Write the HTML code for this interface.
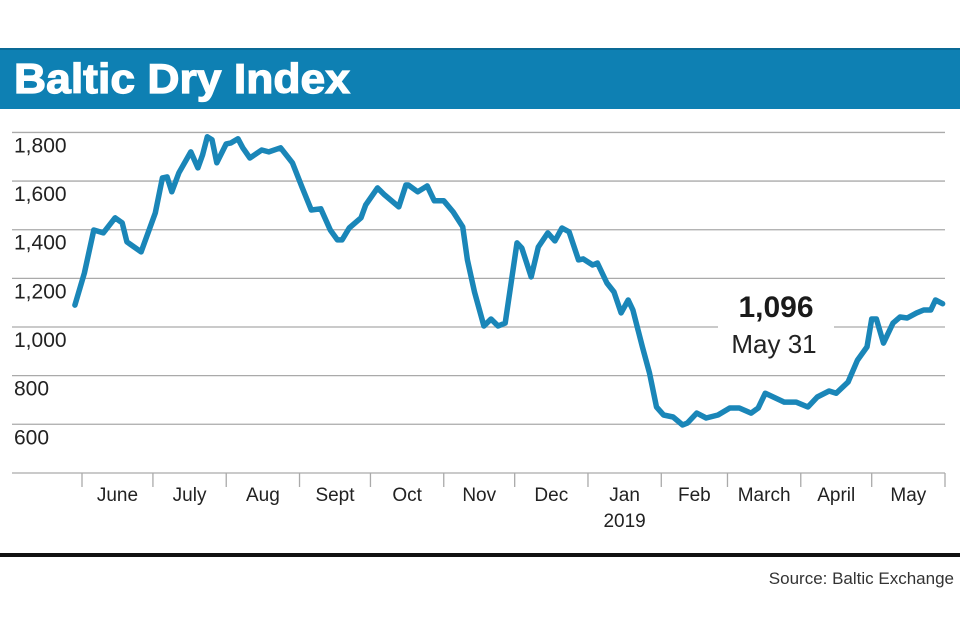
<!DOCTYPE html>
<html><head><meta charset="utf-8"><style>
body{margin:0;background:#fff;font-family:"Liberation Sans",sans-serif}
svg{display:block}
</style></head><body>
<svg width="960" height="640">
<rect x="0" y="48" width="960" height="2" fill="#0a6a96"/>
<rect x="0" y="50" width="960" height="59" fill="#0e80b3"/>
<text x="14" y="93" fill="#fff" font-size="42" font-weight="bold" textLength="336" lengthAdjust="spacingAndGlyphs" stroke="#fff" stroke-width="1.2">Baltic Dry Index</text>
<g id="grid"></g><g id="xaxis"></g>
<rect x="718" y="318" width="116" height="18" fill="#fff"/>
<g id="plot"></g>
<text x="776" y="317" text-anchor="middle" font-size="30" font-weight="bold" fill="#1a1a1a">1,096</text>
<text x="774" y="353" text-anchor="middle" font-size="26" fill="#222">May 31</text>
<rect x="0" y="553" width="960" height="4" fill="#111"/>
<text x="954" y="584" text-anchor="end" font-size="17" fill="#333">Source: Baltic Exchange</text>
</svg>
<script>
const yTicks=[600,800,1000,1200,1400,1600,1800];
const yTickLabels=["600","800","1,000","1,200","1,400","1,600","1,800"];
const monthStarts=[0,30,61,92,122,153,183,214,245,273,304,334,365];
const monthLabels=["June","July","Aug","Sept","Oct","Nov","Dec","Jan","Feb","March","April","May"];
const days=[-3,1,5,9,14,17,19,25,31,34,36,38,41,46,49,51,53,55,57,61,63,66,68,71,76,79,84,87,89,93,97,101,105,108,110,113,118,120,125,128,134,137,138,142,146,149,153,157,161,163,166,170,173,176,179,184,186,190,193,197,200,203,206,210,212,216,218,222,225,228,231,233,237,240,243,246,250,254,256,260,264,269,274,278,283,286,289,297,302,307,311,316,319,324,328,332,334,336,339,343,346,349,353,356,359,361,364];
const values=[1090,1222,1399,1387,1449,1428,1350,1309,1469,1613,1617,1556,1634,1720,1654,1708,1782,1770,1675,1753,1757,1774,1737,1695,1728,1720,1737,1700,1675,1576,1481,1486,1399,1358,1358,1407,1449,1502,1572,1543,1494,1584,1584,1556,1580,1519,1519,1473,1412,1276,1144,1004,1033,1004,1016,1346,1325,1206,1329,1387,1354,1407,1391,1276,1280,1255,1263,1181,1144,1058,1111,1070,918,811,671,638,630,597,605,646,626,638,667,667,646,667,728,691,691,671,712,737,728,774,864,918,1033,1033,934,1016,1041,1037,1058,1070,1070,1111,1096];
const NS="http://www.w3.org/2000/svg";
const X=d=>82+d*(863/365);
const Y=v=>327-(v-1000)*0.2432;
const grid=document.getElementById('grid'),xa=document.getElementById('xaxis'),plot=document.getElementById('plot');
function mk(t,a,p){const e=document.createElementNS(NS,t);for(const k in a)e.setAttribute(k,a[k]);p.appendChild(e);return e;}
yTicks.forEach((v,i)=>{
 const l=mk('line',{x1:12,x2:945,y1:Y(v),y2:Y(v),stroke:'#aaa','stroke-width':1.3},grid);
 
 
 const t=mk('text',{x:14,y:Y(v)+20,'font-size':21,fill:'#222'},grid);t.textContent=yTickLabels[i];
 
 
});
const ax=mk('line',{x1:12,x2:945,y1:473,y2:473,stroke:'#aaa','stroke-width':1.3},xa);


monthStarts.forEach((d,i)=>{
 const tk=mk('line',{x1:X(d),x2:X(d),y1:473,y2:487,stroke:'#aaa','stroke-width':1.3},xa);
 
 
 if(i<monthLabels.length){
  const t=mk('text',{x:(X(d)+X(monthStarts[i+1]))/2,y:501,'font-size':19,fill:'#222','text-anchor':'middle'},xa);
  t.textContent=monthLabels[i];
  
  
 }
});
const yr=mk('text',{x:(X(214)+X(245))/2,y:527,'font-size':19,fill:'#222','text-anchor':'middle'},xa);
yr.textContent='2019';


const p=mk('path',{d:days.map((d,i)=>(i?'L':'M')+X(d).toFixed(1)+','+Y(values[i]).toFixed(1)).join(''),fill:'none',stroke:'#1a86b8','stroke-width':5.5,'stroke-linejoin':'round','stroke-linecap':'round'},plot);


</script>
</body></html>
